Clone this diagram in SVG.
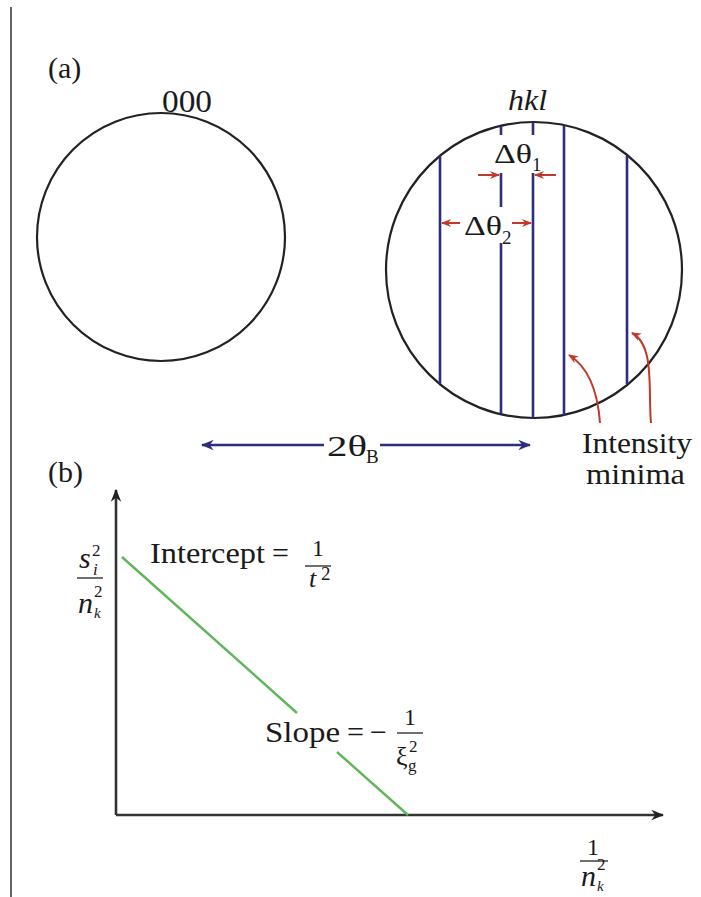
<svg xmlns="http://www.w3.org/2000/svg" width="701" height="897" viewBox="0 0 701 897" font-family="'Liberation Serif', 'Times New Roman', Times, serif">
<defs>
<style>
text{fill:#1a1a1a}
.it{font-style:italic}
.circ{fill:none;stroke:#222;stroke-width:2.2}
.fr{stroke:#333;stroke-width:1.5}
.blue{stroke:#2e2d7c;stroke-width:2.6;fill:none}
.red{stroke:#c0392b;stroke-width:2;fill:none}
.axis{stroke:#333;stroke-width:2.6;fill:none}
.green{stroke:#5fb55a;stroke-width:2.4;fill:none}
.bar{stroke:#333;stroke-width:1.4}
</style>
<marker id="bh" viewBox="0 0 10 10" refX="9" refY="5" markerWidth="5" markerHeight="5" orient="auto-start-reverse"><path d="M0,1 L10,5 L0,9 L3,5 z" fill="#2e2d7c"/></marker>
<marker id="rh" viewBox="0 0 10 10" refX="9" refY="5" markerWidth="5" markerHeight="5" orient="auto-start-reverse"><path d="M0,1 L10,5 L0,9 L3,5 z" fill="#c0392b"/></marker>
<marker id="kh" viewBox="0 0 10 10" refX="9" refY="5" markerWidth="5" markerHeight="5" orient="auto"><path d="M0,1 L10,5 L0,9 L3,5 z" fill="#222"/></marker>
</defs>
<rect width="701" height="897" fill="#fff"/>
<line x1="11" y1="7" x2="11" y2="897" class="fr"/>

<g id="label-a"><text x="48" y="78" font-size="30">(a)</text></g>

<g id="spot-000">
<circle cx="161" cy="237" r="124" class="circ"/>
<text x="162" y="112" font-size="32" textLength="50" lengthAdjust="spacingAndGlyphs">000</text>
</g>

<g id="spot-hkl">
<circle cx="534" cy="270" r="148" class="circ"/>
<text x="508" y="110" font-size="30" class="it" textLength="39" lengthAdjust="spacingAndGlyphs">hkl</text>
<line x1="440" y1="156" x2="440" y2="384" class="blue"/>
<line x1="501" y1="126" x2="501" y2="135" class="blue"/>
<line x1="501" y1="173" x2="501" y2="207" class="blue"/>
<line x1="501" y1="243" x2="501" y2="414" class="blue"/>
<line x1="533" y1="122" x2="533" y2="135" class="blue"/>
<line x1="533" y1="173" x2="533" y2="418" class="blue"/>
<line x1="564" y1="125" x2="564" y2="415" class="blue"/>
<line x1="627" y1="156" x2="627" y2="384" class="blue"/>
<text x="494" y="163" font-size="28" textLength="38" lengthAdjust="spacingAndGlyphs">Δθ</text>
<text x="532" y="171" font-size="19">1</text>
<text x="464" y="235" font-size="28" textLength="38" lengthAdjust="spacingAndGlyphs">Δθ</text>
<text x="502" y="244" font-size="19">2</text>
</g>

<g id="intensity-minima">
<text x="582" y="453" font-size="29" textLength="110" lengthAdjust="spacingAndGlyphs">Intensity</text>
<text x="586" y="484" font-size="29" textLength="99" lengthAdjust="spacingAndGlyphs">minima</text>
</g>

<g id="label-b"><text x="48" y="482" font-size="30">(b)</text></g>

<g id="two-theta">
<text x="327" y="456" font-size="30" textLength="40" lengthAdjust="spacingAndGlyphs">2θ</text>
<text x="366" y="463" font-size="19">B</text>
</g>

<g id="axes">
<line x1="116" y1="815" x2="116" y2="490" class="axis" marker-end="url(#kh)"/>
<line x1="116" y1="815" x2="663" y2="815" class="axis" marker-end="url(#kh)"/>
</g>

<g id="y-label">
<text x="79" y="568" font-size="30" class="it">s</text>
<text x="92" y="556" font-size="17">2</text>
<text x="93" y="575" font-size="17" class="it">i</text>
<line x1="77" y1="578" x2="103" y2="578" class="bar"/>
<text x="78" y="613" font-size="30" class="it">n</text>
<text x="94" y="597" font-size="17">2</text>
<text x="94" y="618" font-size="15" class="it">k</text>
</g>

<g id="intercept">
<text x="150" y="563" font-size="30" textLength="115" lengthAdjust="spacingAndGlyphs">Intercept</text>
<text x="272" y="563" font-size="30">=</text>
<text x="312" y="556" font-size="24">1</text>
<line x1="305" y1="566" x2="331" y2="566" class="bar"/>
<text x="309" y="587" font-size="26" class="it">t</text>
<text x="321" y="580" font-size="19">2</text>
</g>

<g id="slope">
<text x="265" y="742" font-size="30" textLength="75" lengthAdjust="spacingAndGlyphs">Slope</text>
<text x="347" y="742" font-size="30">=</text>
<text x="370" y="742" font-size="30">−</text>
<text x="404" y="725" font-size="24">1</text>
<line x1="397" y1="733" x2="423" y2="733" class="bar"/>
<text x="396" y="765" font-size="26">ξ</text>
<text x="409" y="752" font-size="17">2</text>
<text x="408" y="771" font-size="17">g</text>
</g>

<g id="x-label">
<text x="587" y="855" font-size="24">1</text>
<line x1="580" y1="861" x2="608" y2="861" class="bar"/>
<text x="581" y="886" font-size="30" class="it">n</text>
<text x="597" y="870" font-size="17">2</text>
<text x="597" y="891" font-size="15" class="it">k</text>
</g>

<g id="connectors">
<line x1="324" y1="445" x2="202" y2="445" class="blue" marker-end="url(#bh)"/>
<line x1="380" y1="445" x2="530" y2="445" class="blue" marker-end="url(#bh)"/>
<line x1="478" y1="175" x2="499" y2="175" class="red" marker-end="url(#rh)"/>
<line x1="556" y1="175" x2="535" y2="175" class="red" marker-end="url(#rh)"/>
<line x1="460" y1="223" x2="442" y2="223" class="red" marker-end="url(#rh)"/>
<line x1="512" y1="223" x2="531" y2="223" class="red" marker-end="url(#rh)"/>
<path d="M600,423 C598,395 590,368 569,355" class="red" marker-end="url(#rh)"/>
<path d="M651,423 C648,390 655,345 632,333" class="red" marker-end="url(#rh)"/>
<line x1="122" y1="557" x2="297" y2="713" class="green"/>
<line x1="337" y1="752" x2="408" y2="815" class="green"/>
</g>
</svg>
